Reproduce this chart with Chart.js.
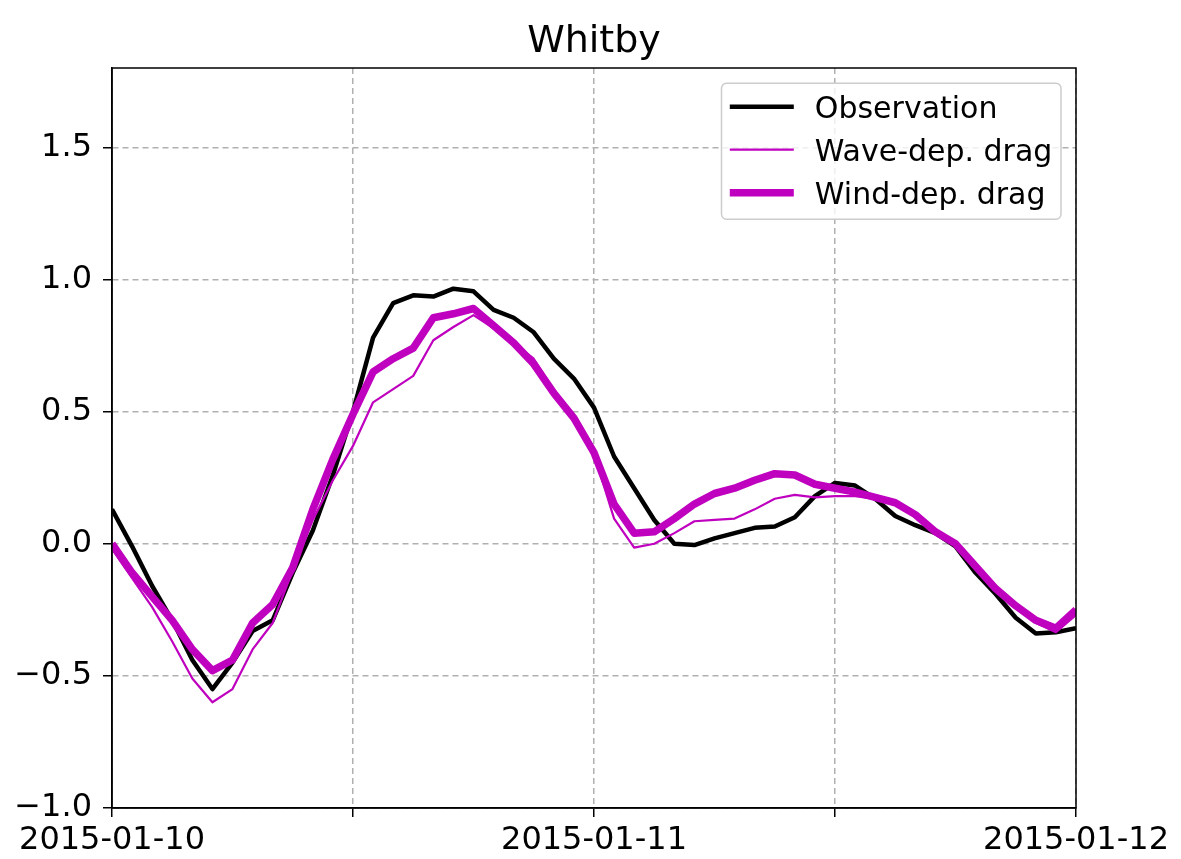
<!DOCTYPE html>
<html>
<head>
<meta charset="utf-8">
<script src="https://cdn.jsdelivr.net/npm/chart.js@4"></script>
<style>
  html, body { margin: 0; padding: 0; background: #fff; }
  #wrap { width: 1181px; height: 859px; }
</style>
</head>
<body>
<div id="wrap"><canvas id="whitbyChart" width="1181" height="859"></canvas></div>
<script>
// hourly values, 2015-01-10 00:00 .. 2015-01-12 00:00
var observation = [0.13, -0.01, -0.16, -0.29, -0.44, -0.55, -0.45, -0.33, -0.29, -0.11,
  0.05, 0.26, 0.50, 0.78, 0.91, 0.94, 0.935, 0.965, 0.955, 0.885,
  0.855, 0.80, 0.70, 0.625, 0.515, 0.33, 0.21, 0.09, 0.0, -0.005,
  0.02, 0.04, 0.06, 0.065, 0.10, 0.18, 0.23, 0.22, 0.17, 0.105,
  0.07, 0.04, -0.01, -0.11, -0.19, -0.28, -0.34, -0.335, -0.32];
var waveDrag = [-0.02, -0.13, -0.24, -0.37, -0.51, -0.60, -0.55, -0.40, -0.30, -0.10,
  0.09, 0.24, 0.37, 0.535, 0.585, 0.635, 0.77, 0.82, 0.865, 0.815,
  0.76, 0.70, 0.58, 0.475, 0.34, 0.095, -0.015, 0.0, 0.04, 0.085,
  0.09, 0.095, 0.13, 0.17, 0.185, 0.175, 0.18, 0.18, 0.17, 0.15,
  0.11, 0.045, 0.0, -0.085, -0.17, -0.24, -0.30, -0.335, -0.27];
var windDrag = [0.0, -0.11, -0.20, -0.29, -0.40, -0.48, -0.44, -0.30, -0.23, -0.09,
  0.13, 0.32, 0.49, 0.65, 0.70, 0.74, 0.855, 0.87, 0.89, 0.825,
  0.76, 0.68, 0.57, 0.475, 0.345, 0.15, 0.04, 0.045, 0.095, 0.15,
  0.19, 0.21, 0.24, 0.265, 0.26, 0.225, 0.21, 0.195, 0.175, 0.155,
  0.11, 0.045, 0.0, -0.085, -0.17, -0.235, -0.29, -0.32, -0.25];

var xTickLabels = ['2015-01-10', '', '2015-01-11', '', '2015-01-12'];
var yTicks = [-1.0, -0.5, 0.0, 0.5, 1.0, 1.5];
var chartTitle = 'Whitby';

var FONT = 'DejaVu Sans';
var MAGENTA = '#bf00bf';

function toPoints(arr) {
  return arr.map(function (v, i) { return { x: i, y: v }; });
}

// spines + title centred over the plot area
var frameBox = {
  id: 'frameBox',
  afterDraw: function (chart) {
    var a = chart.chartArea, ctx = chart.ctx;
    ctx.save();
    ctx.strokeStyle = '#000';
    ctx.lineWidth = 1.5;
    ctx.strokeRect(a.left, a.top, a.right - a.left, a.bottom - a.top);
    ctx.fillStyle = '#000';
    ctx.font = '38px "' + FONT + '"';
    ctx.textAlign = 'center';
    ctx.textBaseline = 'alphabetic';
    ctx.fillText(chartTitle, (a.left + a.right) / 2, a.top - 16.3);
    ctx.restore();
  }
};

// matplotlib-like legend in the upper right
var boxLegend = {
  id: 'boxLegend',
  afterDraw: function (chart) {
    var a = chart.chartArea, ctx = chart.ctx;
    var w = 339.5, h = 136;
    var x0 = a.right - 15 - w, y0 = a.top + 15.3;
    ctx.save();
    ctx.beginPath();
    ctx.roundRect(x0, y0, w, h, 5);
    ctx.fillStyle = 'rgba(255,255,255,0.8)';
    ctx.fill();
    ctx.strokeStyle = '#cccccc';
    ctx.lineWidth = 1.5;
    ctx.stroke();
    ctx.font = '30px "' + FONT + '"';
    ctx.textBaseline = 'alphabetic';
    ctx.textAlign = 'left';
    [0, 1, 2].forEach(function (di, k) {
      var ds = chart.data.datasets[di];
      var ly = y0 + 23.4 + k * 43;
      ctx.beginPath();
      ctx.moveTo(x0 + 8.3, ly);
      ctx.lineTo(x0 + 72.3, ly);
      ctx.strokeStyle = ds.borderColor;
      ctx.lineWidth = ds.borderWidth;
      ctx.lineCap = 'butt';
      ctx.stroke();
      ctx.fillStyle = '#000';
      ctx.fillText(ds.label, x0 + 93.3, ly + 11);
    });
    ctx.restore();
  }
};

var ctx = document.getElementById('whitbyChart');
var whitbyChart = new Chart(ctx, {
  type: 'line',
  data: {
    datasets: [{
      label: 'Observation',
      data: toPoints(observation),
      borderColor: '#000000',
      borderWidth: 4.5,
      order: 3
    }, {
      label: 'Wave-dep. drag',
      data: toPoints(waveDrag),
      borderColor: MAGENTA,
      borderWidth: 2.2,
      order: 2
    }, {
      label: 'Wind-dep. drag',
      data: toPoints(windDrag),
      borderColor: MAGENTA,
      borderWidth: 7.5,
      order: 1
    }]
  },
  options: {
    responsive: false,
    animation: false,
    devicePixelRatio: 1,
    layout: { padding: { left: 0, right: 105, top: 68, bottom: 0 } },
    elements: {
      point: { radius: 0, hoverRadius: 0 },
      line: { tension: 0, fill: false, borderJoinStyle: 'round', borderCapStyle: 'butt' }
    },
    datasets: { line: { clip: 0 } },
    plugins: {
      legend: { display: false },
      tooltip: { enabled: false },
      title: { display: false }
    },
    scales: {
      x: {
        type: 'linear',
        min: 0,
        max: 48,
        afterFit: function (scale) { scale.height = 51; },
        afterBuildTicks: function (scale) {
          scale.ticks = xTickLabels.map(function (t, i) { return { value: i * 12 }; });
        },
        ticks: {
          autoSkip: false,
          maxRotation: 0,
          color: '#000',
          padding: 4,
          font: { family: FONT, size: 32 },
          callback: function (value) { return xTickLabels[Math.round(value / 12)]; }
        },
        grid: {
          color: '#b0b0b0',
          lineWidth: 1.5,
          tickColor: '#000',
          tickWidth: 1.5,
          tickLength: 9
        },
        border: { display: true, color: '#000', width: 1.5, dash: [6, 4] }
      },
      y: {
        type: 'linear',
        min: -1.0,
        max: 1.8,
        afterFit: function (scale) { scale.width = 112; },
        afterBuildTicks: function (scale) {
          scale.ticks = yTicks.map(function (v) { return { value: v }; });
        },
        ticks: {
          color: '#000',
          padding: 11,
          font: { family: FONT, size: 32 },
          callback: function (value) { return value.toFixed(1).replace('-', '\u2212'); }
        },
        grid: {
          color: '#b0b0b0',
          lineWidth: 1.5,
          tickColor: '#000',
          tickWidth: 1.5,
          tickLength: 9
        },
        border: { display: true, color: '#000', width: 1.5, dash: [6, 4] }
      }
    }
  },
  plugins: [frameBox, boxLegend]
});
</script>
</body>
</html>
